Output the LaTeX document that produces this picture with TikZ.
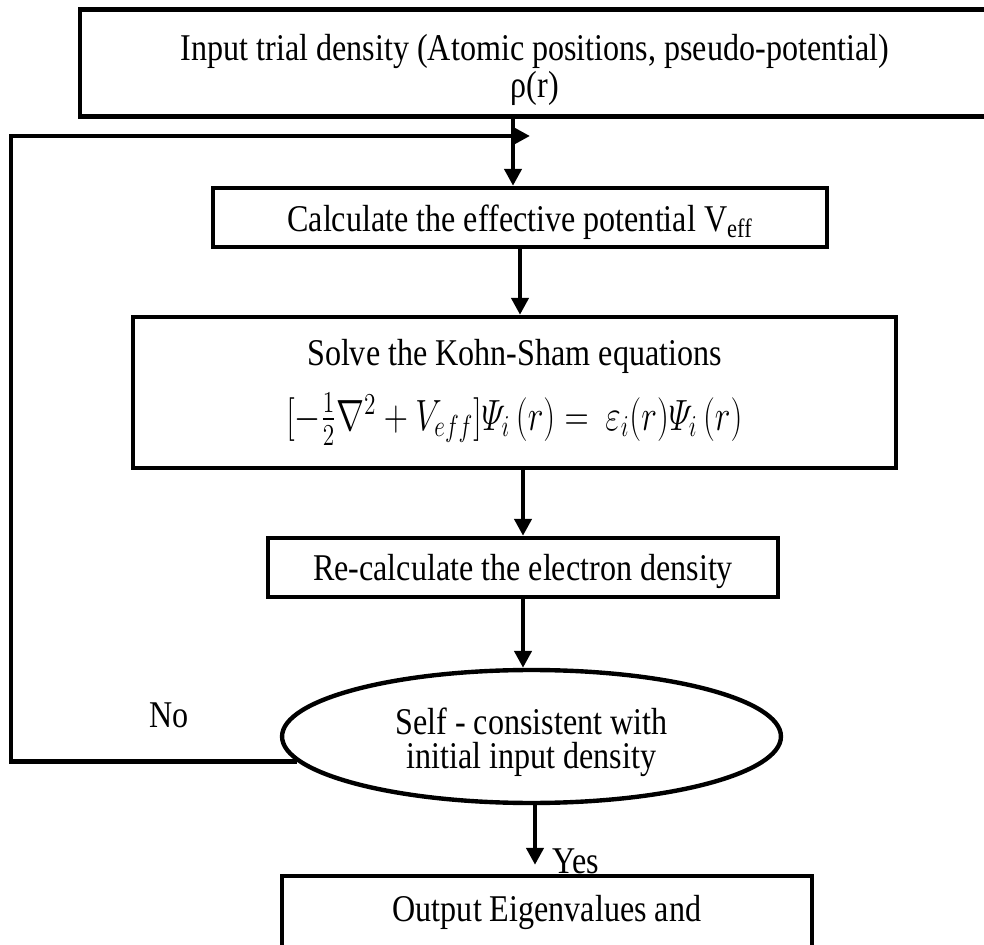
\documentclass[tikz,border=0pt]{standalone}
\usepackage{amsmath}
\usepackage{fontspec}
\setmainfont{Liberation Serif}[FakeStretch=0.85]
\usetikzlibrary{arrows.meta, positioning, shapes.geometric}

\begin{document}
\begin{tikzpicture}[
    x=0.02cm, y=-0.02cm,
    every node/.style={font=\fontsize{21.5}{19.5}\selectfont, align=center, inner sep=0pt},
    box/.style={rectangle, draw, line width=2.5pt},
    arrow/.style={-{Triangle[length=0.34cm,width=0.34cm]}, line width=2.8pt}
]
\useasboundingbox (0,0) rectangle (984,945);
\clip (0,0) rectangle (984,945);
\node[box, minimum width=18.2cm, minimum height=2.14cm] (input) at (535,63)
    {\rule{0pt}{0.8cm}Input trial density (Atomic positions, pseudo-potential)\\ ρ(r)};
\node[box, minimum width=12.28cm, minimum height=1.18cm] (veff) at (520,217.5)
    {\rule{0pt}{0.72cm}Calculate the effective potential V\textsubscript{eff}};
\node[box, minimum width=15.26cm, minimum height=3.02cm] (kohn) at (514.5,392.5)
    {Solve the Kohn-Sham equations\\[10pt]
     \scalebox{0.92}[1.2]{$[-\frac{1}{2}\nabla^2+V_{eff}]\varPsi_i\,(r) = \ \varepsilon_i(r)\varPsi_i\,(r)$}};
\node[box, minimum width=10.2cm, minimum height=1.18cm] (dens) at (523,567.5)
    {\rule{0pt}{0.7cm}Re-calculate the electron density};
\node[ellipse, draw, line width=2.5pt, minimum width=9.98cm, minimum height=2.66cm] (check) at (531.5,736.5)
    {\rule{0pt}{0.75cm}Self - consistent with\\ initial input density};
\node[box, minimum width=10.6cm, minimum height=1.44cm] (output) at (547,912)
    {Output Eigenvalues and};
\node (no) at (169,715) {No};
\node (yes) at (576,861) {Yes};
\coordinate (loopleft) at (11,767);
\coordinate (loopend) at (530,136);

% main flow
\draw[arrow] ([xshift=-0.44cm]input.south) -- ([xshift=-0.44cm]input.south |- veff.north);
\draw[arrow] (veff.south) -- (veff.south |- kohn.north);
\draw[arrow] (dens.north |- kohn.south) -- (dens.north);
\draw[arrow] (dens.south) -- (dens.south |- check.north);
\draw[arrow, shorten >=0.18cm] ([xshift=0.07cm]check.south) -- ([xshift=0.07cm]check.south |- output.north);

% back to the start when not converged
\draw[arrow, line join=miter] (check.186) -- (check.186 -| loopleft) -- (loopleft |- loopend) -- (loopend);
\end{tikzpicture}
\end{document}
